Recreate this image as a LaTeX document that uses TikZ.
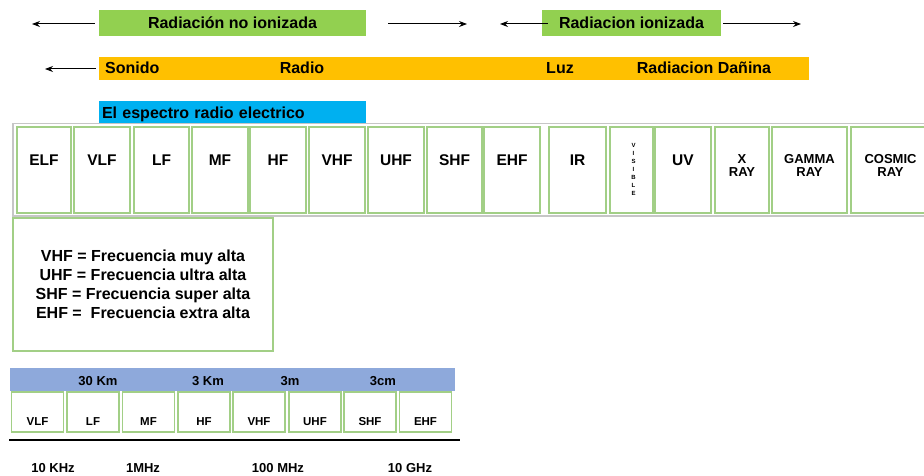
\documentclass[tikz,border=0pt]{standalone}
\usepackage{fontspec}
\setmainfont{Liberation Sans}
\usetikzlibrary{arrows.meta}

\definecolor{bandgreen}{HTML}{92D050}
\definecolor{bandorange}{HTML}{FFC000}
\definecolor{bandblue}{HTML}{00B0F0}
\definecolor{scaleblue}{HTML}{8EA9DB}
\definecolor{cellgreen}{HTML}{A2CF86}
\definecolor{framegray}{HTML}{C6C6C6}

\tikzset{
  band/.style={inner sep=0pt, font=\fontsize{16}{19}\selectfont\bfseries},
  arr/.style={-{Stealth[length=8pt,width=6pt]}, line width=1pt},
  cell/.style={draw=cellgreen, line width=1.2pt, inner sep=0pt, minimum height=86pt},
  celltext/.style={anchor=north, inner sep=0pt, font=\fontsize{15.5}{16}\selectfont\bfseries},
  raytext/.style={anchor=north, inner sep=0pt, align=center, font=\fontsize{13}{13}\selectfont\bfseries},
  vistext/.style={anchor=north, inner sep=0pt, align=center, font=\fontsize{6}{8}\selectfont\bfseries},
  bcell/.style={draw=cellgreen, line width=1.2pt, inner sep=0pt, minimum width=52pt, minimum height=40pt},
  btext/.style={anchor=north, inner sep=0pt, font=\fontsize{11.5}{12}\selectfont\bfseries},
  small/.style={inner sep=0pt, font=\fontsize{13}{14}\selectfont\bfseries}
}

\begin{document}
\begin{tikzpicture}[x=1pt,y=-1pt]
	\useasboundingbox (0,0) rectangle (924,476);

	% radiacion
	\node[band,fill=bandgreen,minimum width=267pt,minimum height=26pt] (noion) at (232.5,23) {Radiación no ionizada};
	\node[band,fill=bandgreen,minimum width=179pt,minimum height=26pt] (ion) at (631.5,23) {Radiacion ionizada};
	\coordinate (noionL) at (32,24);
	\coordinate (noionR) at (467,24);
	\coordinate (ionL) at (500,24);
	\coordinate (ionR) at (801,24);

	\draw[arr] ([xshift=-4pt,yshift=-1pt]noion.west) -- (noionL);
	\draw[arr] ([xshift=22pt,yshift=-1pt]noion.east) -- (noionR);
	\draw[arr] ([xshift=6pt,yshift=-1pt]ion.west) -- (ionL);
	\draw[arr] ([xshift=2pt,yshift=-1pt]ion.east) -- (ionR);

	% bandas
	\node[band,fill=bandorange,minimum width=710pt,minimum height=23pt] (bands) at (454,68.5) {};
	\node[band,anchor=base west] (sonido) at (105,74) {Sonido};
	\node[band,anchor=base] (radio) at (302,74) {Radio};
	\node[band,anchor=base] (luz) at (560,74) {Luz};
	\node[band,anchor=base] (danina) at (704,74) {Radiacion Dañina};
	\coordinate (bandsL) at (45,69);
	\draw[arr] ([xshift=-3pt,yshift=-0.5pt]bands.west) -- (bandsL);

	\node[band,fill=bandblue,minimum width=267pt,minimum height=23pt,text width=261pt,align=left,text depth=0pt,inner xsep=3pt] (espectro) at (232.5,112.5) {El espectro radio electrico};

	% espectro
	\node[draw=framegray,line width=1.5pt,anchor=north west,minimum width=918pt,minimum height=92pt,inner sep=0pt] (spectrum) at (12,123) {};

	\node[cell,minimum width=54pt] (elf) at (44,170) {};
	\node[cell,minimum width=56pt] (vlf) at (102,170) {};
	\node[cell,minimum width=55pt] (lf) at (161.5,170) {};
	\node[cell,minimum width=56pt] (mf) at (220,170) {};
	\node[cell,minimum width=56pt] (hf) at (278,170) {};
	\node[cell,minimum width=56pt] (vhf) at (337,170) {};
	\node[cell,minimum width=56pt] (uhf) at (396,170) {};
	\node[cell,minimum width=55pt] (shf) at (454.5,170) {};
	\node[cell,minimum width=56pt] (ehf) at (512,170) {};
	\node[cell,minimum width=57pt] (ir) at (577.5,170) {};
	\node[cell,minimum width=43pt] (vis) at (631.5,170) {};
	\node[cell,minimum width=56pt] (uv) at (683,170) {};
	\node[cell,minimum width=54pt] (xray) at (742,170) {};
	\node[cell,minimum width=75pt] (gamma) at (809.5,170) {};
	\node[cell,minimum width=79pt] (cosmic) at (890.5,170) {};

	\node[celltext] (elft) at ([yshift=-28pt]elf.north) {ELF};
	\node[celltext] (vlft) at ([yshift=-28pt]vlf.north) {VLF};
	\node[celltext] (lft) at ([yshift=-28pt]lf.north) {LF};
	\node[celltext] (mft) at ([yshift=-28pt]mf.north) {MF};
	\node[celltext] (hft) at ([yshift=-28pt]hf.north) {HF};
	\node[celltext] (vhft) at ([yshift=-28pt]vhf.north) {VHF};
	\node[celltext] (uhft) at ([yshift=-28pt]uhf.north) {UHF};
	\node[celltext] (shft) at ([yshift=-28pt]shf.north) {SHF};
	\node[celltext] (ehft) at ([yshift=-28pt]ehf.north) {EHF};
	\node[celltext] (irt) at ([yshift=-28pt]ir.north) {IR};
	\node[vistext] (vist) at ([xshift=2pt,yshift=-17pt]vis.north) {V\\I\\S\\I\\B\\L\\E};
	\node[celltext] (uvt) at ([yshift=-28pt]uv.north) {UV};
	\node[raytext] (xrayt) at ([yshift=-28pt]xray.north) {X\\RAY};
	\node[raytext] (gammat) at ([yshift=-28pt]gamma.north) {GAMMA\\RAY};
	\node[raytext] (cosmict) at ([yshift=-28pt]cosmic.north) {COSMIC\\RAY};

	% siglas
	\node[draw=cellgreen,line width=1.2pt,minimum width=260pt,minimum height=133pt,inner sep=0pt,align=center,font=\fontsize{16}{19}\selectfont\bfseries] (glosario) at (143,284.5)
		{VHF = Frecuencia muy alta\\UHF = Frecuencia ultra alta\\SHF = Frecuencia super alta\\EHF = \ Frecuencia extra alta};

	% escala
	\node[fill=scaleblue,minimum width=445pt,minimum height=23pt,inner sep=0pt] (escala) at (232.5,379.5) {};
	\node[small] (km30) at (98,381) {30 Km};
	\node[small] (km3) at (208,381) {3 Km};
	\node[small] (m3) at (290,381) {3m};
	\node[small] (cm3) at (383,381) {3cm};

	\node[bcell] (bvlf) at (37.5,412) {};
	\node[bcell] (blf) at (93,412) {};
	\node[bcell] (bmf) at (148.5,412) {};
	\node[bcell] (bhf) at (204,412) {};
	\node[bcell] (bvhf) at (259,412) {};
	\node[bcell] (buhf) at (315,412) {};
	\node[bcell] (bshf) at (370,412) {};
	\node[bcell] (behf) at (425.5,412) {};

	\node[btext] (bvlft) at ([yshift=-25.7pt]bvlf.north) {VLF};
	\node[btext] (blft) at ([yshift=-25.7pt]blf.north) {LF};
	\node[btext] (bmft) at ([yshift=-25.7pt]bmf.north) {MF};
	\node[btext] (bhft) at ([yshift=-25.7pt]bhf.north) {HF};
	\node[btext] (bvhft) at ([yshift=-25.7pt]bvhf.north) {VHF};
	\node[btext] (buhft) at ([yshift=-25.7pt]buhf.north) {UHF};
	\node[btext] (bshft) at ([yshift=-25.7pt]bshf.north) {SHF};
	\node[btext] (behft) at ([yshift=-25.7pt]behf.north) {EHF};

	\draw[line width=2.2pt] (9,440) -- (460,440);

	\node[small] (khz10) at (53,468.5) {10 KHz};
	\node[small] (mhz1) at (143,468.5) {1MHz};
	\node[small] (mhz100) at (278,468.5) {100 MHz};
	\node[small] (ghz10) at (410,468.5) {10 GHz};

\end{tikzpicture}
\end{document}
